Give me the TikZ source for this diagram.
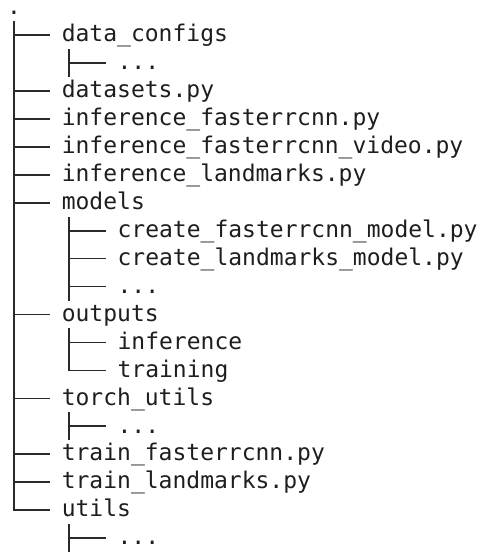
\documentclass[tikz,border=0pt]{standalone}
\usepackage{fontspec}
\setmonofont{DejaVu Sans Mono}
\usetikzlibrary{calc}
\definecolor{ink}{HTML}{1E1E1E}
\definecolor{rule}{HTML}{2A2A2A}
\begin{document}
\begin{tikzpicture}[x=1pt,y=-1pt,
  entry/.style={anchor=west,inner sep=0pt,text height=15.4pt,text depth=2pt,
    font=\ttfamily\fontsize{23}{28}\selectfont,text=ink},
  branch/.style={draw=rule,line width=1.7pt,line join=miter}]
\useasboundingbox (0,0) rectangle (482,552);

% root and entries (level 1 at x=61.6, level 2 at x=117.4; row pitch 27.95)
\node[entry,anchor=base west,text height=4pt,text depth=0pt] (root) at (7,14) {.};
\node[entry] (n1)  at (61.6,35)     {data\_configs};
\node[entry] (n2)  at (117.4,62.95) {...};
\node[entry] (n3)  at (61.6,90.9)   {datasets.py};
\node[entry] (n4)  at (61.6,118.85) {inference\_fasterrcnn.py};
\node[entry] (n5)  at (61.6,146.8)  {inference\_fasterrcnn\_video.py};
\node[entry] (n6)  at (61.6,174.75) {inference\_landmarks.py};
\node[entry] (n7)  at (61.6,202.7)  {models};
\node[entry] (n8)  at (117.4,230.65){create\_fasterrcnn\_model.py};
\node[entry] (n9)  at (117.4,258.6) {create\_landmarks\_model.py};
\node[entry] (n10) at (117.4,286.55){...};
\node[entry] (n11) at (61.6,314.5)  {outputs};
\node[entry] (n12) at (117.4,342.45){inference};
\node[entry] (n13) at (117.4,370.4) {training};
\node[entry] (n14) at (61.6,398.35) {torch\_utils};
\node[entry] (n15) at (117.4,426.3) {...};
\node[entry] (n16) at (61.6,454.25) {train\_fasterrcnn.py};
\node[entry] (n17) at (61.6,482.2)  {train\_landmarks.py};
\node[entry] (n18) at (61.6,510.15) {utils};
\node[entry] (n19) at (117.4,538.1) {...};

% trunk of the top level
\draw[branch] ($(root |- n1.west)+(0,14pt)$) -- (root |- n18.west) -- ($(n18.west)+(-11.6pt,0)$);
\foreach \c in {n1,n3,n4,n5,n6,n7,n11,n14,n16,n17}
  \draw[branch] (root |- \c.west) -- ($(\c.west)+(-11.6pt,0)$);

% sub-trees: vertical at parent x + 7.5pt
\foreach \p/\first/\last/\kids in {n1/n2/n2/n2, n7/n8/n10/{n8,n9,n10}, n14/n15/n15/n15, n18/n19/n19/n19}{
  \coordinate (v) at ($(\p.west)+(7.5pt,0)$);
  \draw[branch] ($(v |- \first.west)+(0,14pt)$) -- ($(v |- \last.west)+(0,-14pt)$);
  \foreach \k in \kids
    \draw[branch] (v |- \k.west) -- ($(\k.west)+(-11.4pt,0)$);
}
\coordinate (vo) at ($(n11.west)+(7.5pt,0)$);
\draw[branch] ($(vo |- n12.west)+(0,14pt)$) -- (vo |- n13.west) -- ($(n13.west)+(-11.4pt,0)$);
\draw[branch] (vo |- n12.west) -- ($(n12.west)+(-11.4pt,0)$);
\end{tikzpicture}
\end{document}
